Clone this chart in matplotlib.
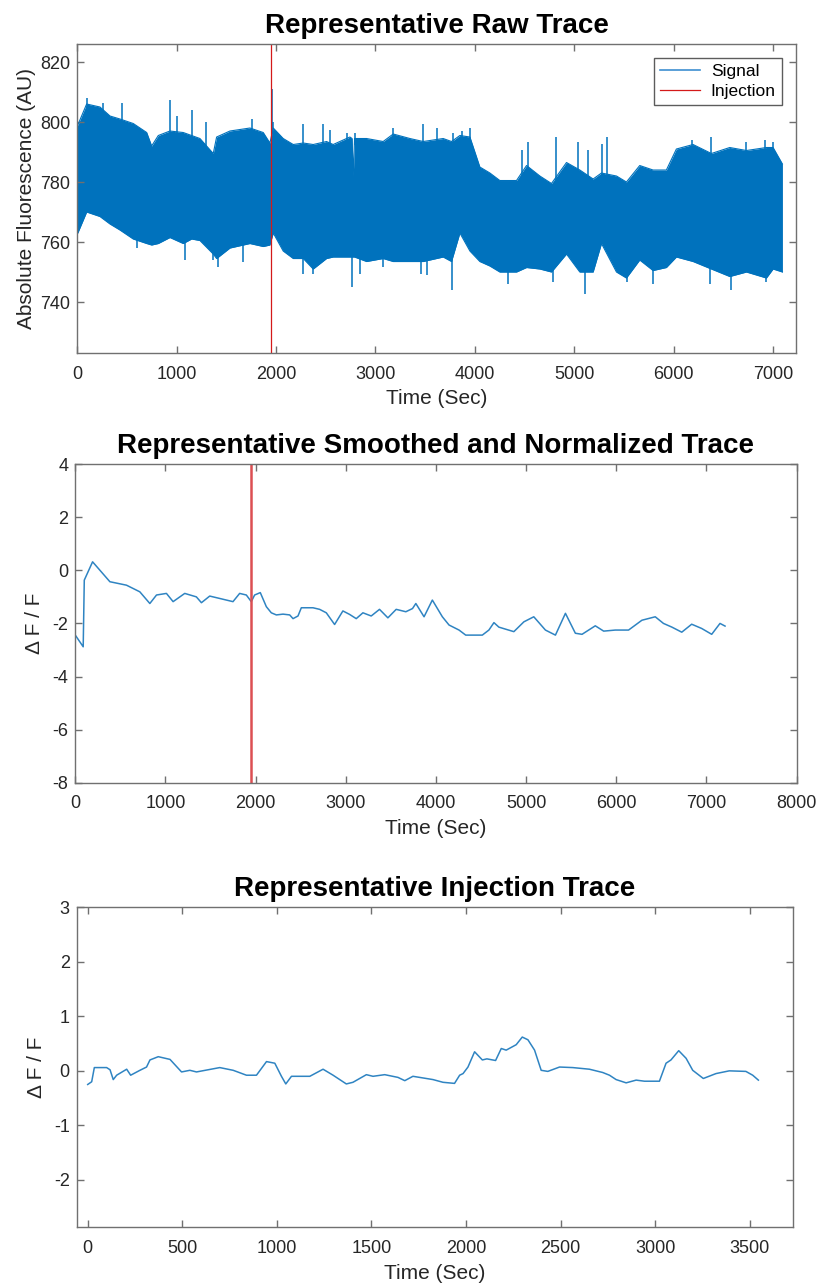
import numpy as np
import matplotlib
matplotlib.use("Agg")
import matplotlib.pyplot as plt

plt.rcParams['font.family'] = ['Liberation Sans', 'DejaVu Sans']
plt.rcParams['axes.unicode_minus'] = False

# ---- raw trace, read as band envelope (Time, top / bottom of the noise band)
raw_t = [0, 5, 94, 228, 329, 429, 563, 698, 748, 815, 932, 1066, 1150, 1234,
         1368, 1402, 1536, 1737, 1871, 1938, 1972, 2072, 2173, 2274, 2374,
         2508, 2575, 2743, 2765, 2777, 2790, 2911, 3078, 3179, 3347, 3481,
         3682, 3766, 3850, 3951, 4051, 4152, 4252, 4420, 4521, 4655, 4772,
         4923, 5057, 5191, 5275, 5426, 5526, 5660, 5794, 5928, 6029, 6197,
         6381, 6566, 6734, 6935, 7002, 7096]
raw_top = [799, 799, 806, 805, 802, 801, 799.5, 796.5, 792, 795.5, 797, 796.5,
           795.5, 794.5, 789.5, 795, 797, 798, 796.5, 793, 798, 794.5, 792.5,
           793, 792.5, 793.5, 792.5, 795, 794.5, 782, 794.5, 794.5, 793.5,
           796, 794.5, 793.5, 794.5, 793.5, 795.5, 795, 785, 783, 780.5, 780.5,
           785.5, 782, 779.5, 786.5, 784, 781, 783, 782, 780, 785.5, 784, 784,
           791, 792.5, 789.5, 791.5, 790.5, 791.5, 791.5, 786]
raw_bot = [763, 763, 770, 768.5, 766, 764, 761, 759.5, 759, 759.5, 761.5,
           759.5, 761, 760.5, 756, 754.5, 758, 759.5, 758.5, 759, 763, 757,
           754.5, 754.5, 751, 754.5, 755, 755, 755, 755, 755, 753.5, 754.5,
           753.5, 753.5, 753.5, 755, 753.5, 763, 757, 753.5, 752, 750, 750,
           751.5, 751, 750, 756, 750, 750, 759.5, 750, 748, 754, 750.5, 751.5,
           755, 753.5, 751, 748.5, 750, 748, 751, 750]
# isolated spikes sticking out of the noise band
spike_up_t = [0, 94, 262, 446, 933, 1000, 1151, 1300, 1754, 1955, 1972, 2274,
              2475, 2542, 2710, 2794, 3179, 3481, 3620, 3783, 3867, 3951, 4471,
              4538, 4813, 5041, 5141, 5276, 5326, 6181, 6382, 6734, 6918, 7002]
spike_up_v = [826, 808, 806.5, 806.5, 807.3, 802, 804, 800, 801, 811, 800,
              799.5, 799.5, 797.3, 796.5, 796.5, 798, 799.5, 798, 796.5, 797,
              798, 790.6, 793.3, 795, 793.3, 790.6, 792.8, 795, 794, 795,
              793.3, 794, 793.5]
spike_dn_t = [0, 597, 1083, 1368, 1418, 1670, 2274, 2375, 2760, 2844, 3078,
              3458, 3515, 3766, 4336, 4789, 5108, 5527, 5795, 6365, 6583,
              6935]
spike_dn_v = [723, 758, 753.9, 753.9, 751.7, 753.3, 749.4, 749.4, 745, 749.4,
              751.7, 749.4, 749, 744, 746.1, 746.7, 742.8, 746.7, 746.1, 746.1,
              743.9, 746.7]

injection_t = 1950

# ---- smoothed and normalized trace
smooth_t = [0, 88, 100, 192, 384, 568, 716, 827, 901, 1011, 1085, 1214, 1343,
            1399, 1491, 1602, 1749, 1823, 1897, 1952, 1989, 2052, 2119, 2174,
            2230, 2304, 2378, 2415, 2470, 2507, 2636, 2710, 2784, 2876, 2968,
            3042, 3116, 3190, 3282, 3374, 3467, 3559, 3666, 3740, 3777, 3868,
            3960, 4071, 4145, 4256, 4330, 4514, 4587, 4643, 4698, 4864, 4975,
            5085, 5214, 5325, 5436, 5546, 5620, 5767, 5860, 5989, 6136, 6284,
            6432, 6523, 6617, 6726, 6836, 6947, 7058, 7150, 7206]
smooth_v = [-2.44, -2.88, -0.37, 0.32, -0.43, -0.56, -0.81, -1.25, -0.93,
            -0.87, -1.18, -0.87, -1.0, -1.22, -0.97, -1.06, -1.18, -0.87, -0.93,
            -1.18, -0.93, -0.84, -1.37, -1.6, -1.68, -1.65, -1.68, -1.82, -1.72,
            -1.41, -1.41, -1.47, -1.6, -2.04, -1.53, -1.66, -1.82, -1.6, -1.72,
            -1.47, -1.79, -1.47, -1.56, -1.44, -1.25, -1.75, -1.12, -1.75,
            -2.06, -2.25, -2.44, -2.44, -2.25, -1.97, -2.14, -2.31, -1.94,
            -1.75, -2.25, -2.44, -1.62, -2.37, -2.41, -2.09, -2.29, -2.25,
            -2.25, -1.88, -1.75, -2.0, -2.14, -2.33, -2.03, -2.19, -2.41, -2.0,
            -2.1]

# ---- injection window trace
inj_t = [0, 21, 35, 100, 118, 135, 153, 206, 227, 276, 311, 329, 373, 435,
         496, 540, 575, 698, 769, 839, 892, 945, 989, 1024, 1047, 1077, 1174,
         1244, 1297, 1367, 1402, 1473, 1508, 1570, 1640, 1676, 1719, 1825,
         1878, 1939, 1966, 1984, 2010, 2045, 2086, 2110, 2156, 2186, 2212,
         2265, 2297, 2327, 2362, 2397, 2432, 2494, 2564, 2652, 2722, 2758,
         2793, 2846, 2899, 2943, 3022, 3057, 3083, 3124, 3163, 3198, 3254,
         3321, 3391, 3479, 3515, 3545]
inj_v = [-0.25, -0.2, 0.06, 0.06, 0.02, -0.16, -0.08, 0.03, -0.08, 0.01, 0.07,
         0.2, 0.26, 0.21, -0.02, 0.01, -0.02, 0.06, 0.01, -0.08, -0.08, 0.17,
         0.14, -0.1, -0.24, -0.1, -0.1, 0.03, -0.08, -0.24, -0.21, -0.07, -0.1,
         -0.07, -0.12, -0.18, -0.1, -0.16, -0.21, -0.23, -0.08, -0.05, 0.07,
         0.35, 0.2, 0.22, 0.19, 0.41, 0.38, 0.48, 0.62, 0.57, 0.38, 0.01,
         -0.01, 0.07, 0.06, 0.03, -0.03, -0.08, -0.16, -0.22, -0.17, -0.19,
         -0.19, 0.14, 0.2, 0.37, 0.23, 0.01, -0.14, -0.05, 0.0, -0.01, -0.08,
         -0.17]

BLUE = '#0072BD'
LINE_BLUE = '#2f84c2'
SPINE = '#707070'
TXT = '#262626'


def style(ax):
    for s in ax.spines.values():
        s.set_color(SPINE)
        s.set_linewidth(1.0)
    ax.tick_params(direction='in', length=5, width=1.0, color=SPINE,
                   labelcolor=TXT, labelsize=13, top=True, right=True)
    ax.tick_params(axis='x', pad=9)
    ax.tick_params(axis='y', pad=5)


fig = plt.figure(figsize=(8.19, 12.87), dpi=100)

# panel 1
ax1 = fig.add_axes([0.0944, 0.7257, 0.8772, 0.2401])
ax1.fill_between(raw_t, raw_bot, raw_top, color=BLUE, lw=0)
ax1.plot(raw_t, raw_top, color=BLUE, lw=0.8, label='Signal')
ax1.plot(raw_t, raw_bot, color=BLUE, lw=0.8)
base_up = np.interp(spike_up_t, raw_t, raw_top) - 2
base_dn = np.interp(spike_dn_t, raw_t, raw_bot) + 2
ax1.vlines(spike_up_t, base_up, spike_up_v, color=BLUE, lw=1.1)
ax1.vlines(spike_dn_t, spike_dn_v, base_dn, color=BLUE, lw=1.1)
ax1.axvline(injection_t, color='#d41a1a', lw=0.9, label='Injection')
ax1.set_xlim(0, 7230)
ax1.set_ylim(723, 826)
ax1.set_xticks(range(0, 7001, 1000))
ax1.set_yticks(range(740, 821, 20))
style(ax1)
ax1.set_title('Representative Raw Trace', fontsize=20, fontweight='bold', pad=8)
ax1.set_xlabel('Time (Sec)', fontsize=15, color=TXT, labelpad=5)
ax1.set_ylabel('Absolute Fluorescence (AU)', fontsize=15, color=TXT, labelpad=3)
leg = ax1.legend(loc='upper right', fontsize=12.5, frameon=True, fancybox=False,
                 handlelength=2.3, labelspacing=0.25, borderaxespad=0.8,
                 handletextpad=0.6, borderpad=0.35)
leg.get_frame().set_edgecolor('#333333')
leg.get_frame().set_linewidth(1.0)
leg.legend_handles[0].set_color('#3d8fd1')
leg.legend_handles[0].set_linewidth(1.2)

# panel 2
ax2 = fig.add_axes([0.0919, 0.3918, 0.8808, 0.2476])
ax2.plot(smooth_t, smooth_v, color=LINE_BLUE, lw=1.1)
ax2.axvline(injection_t, color='#dc4f52', lw=1.8)
ax2.set_xlim(0, 8000)
ax2.set_ylim(-8, 4)
ax2.set_xticks(range(0, 8001, 1000))
ax2.set_yticks(range(-8, 5, 2))
style(ax2)
ax2.set_title('Representative Smoothed and Normalized Trace', fontsize=20,
              fontweight='bold', pad=8)
ax2.set_xlabel('Time (Sec)', fontsize=15, color=TXT, labelpad=5)
ax2.set_ylabel('\u0394 F / F', fontsize=15, color=TXT, labelpad=6)

# panel 3
ax3 = fig.add_axes([0.0937, 0.0464, 0.875, 0.2486])
ax3.plot(inj_t, inj_v, color=LINE_BLUE, lw=1.1)
ax3.set_xlim(-58, 3730)
ax3.set_ylim(-2.87, 3)
ax3.set_xticks(range(0, 3501, 500))
ax3.set_yticks(range(-2, 4, 1))
style(ax3)
ax3.set_title('Representative Injection Trace', fontsize=20, fontweight='bold',
              pad=8)
ax3.set_xlabel('Time (Sec)', fontsize=15, color=TXT, labelpad=5)
ax3.set_ylabel('\u0394 F / F', fontsize=15, color=TXT, labelpad=6)

fig.savefig('out.png', dpi=100)
